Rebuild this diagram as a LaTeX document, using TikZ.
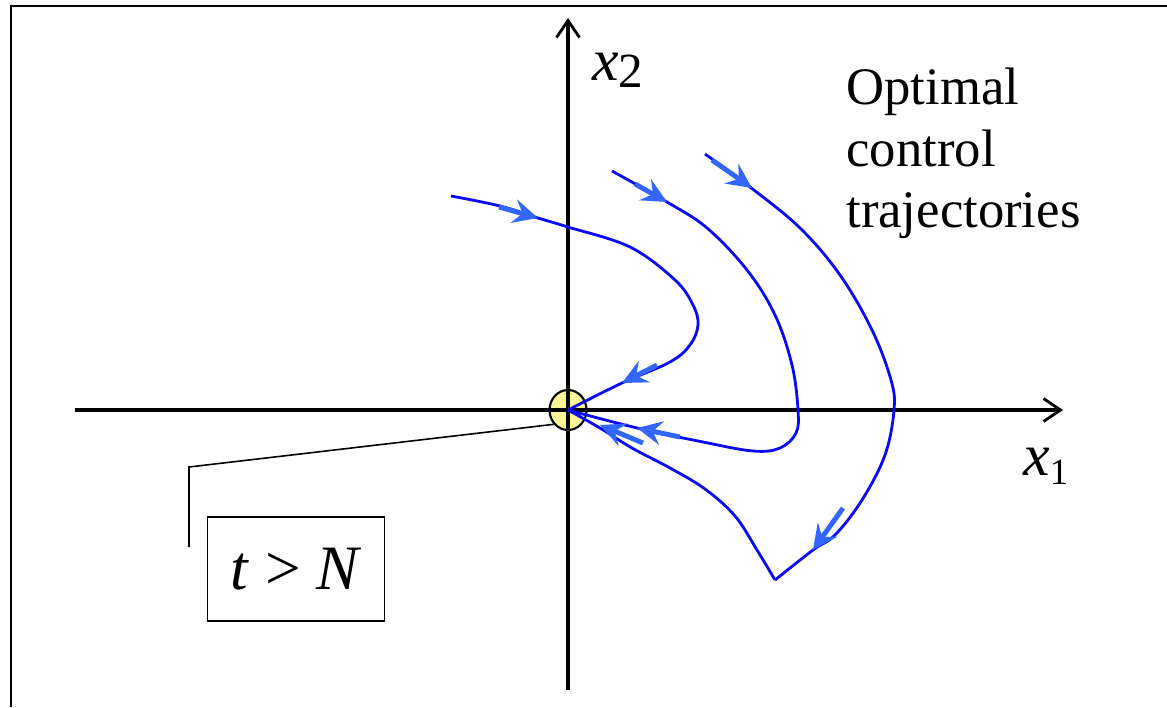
\documentclass[tikz,border=0pt]{standalone}
\usepackage{fontspec}
\setmainfont{Liberation Serif}
\usetikzlibrary{arrows.meta,shapes.geometric}
\definecolor{trajblue}{RGB}{10,10,245}
\definecolor{tipblue}{RGB}{51,102,255}
\definecolor{eqyellow}{RGB}{252,246,150}
\tikzset{
  axis/.style={line width=1.8pt,-{Straight Barb[length=3.4mm,width=4.6mm,line width=1.6pt]}},
  traj/.style={trajblue,line width=1.6pt,line join=miter},
  flow/.style={tipblue,line width=2.8pt,-{Stealth[length=5mm,width=4.8mm,inset=1.8mm]}},
}
\begin{document}
\begin{tikzpicture}[x=0.02cm,y=-0.02cm]
\useasboundingbox (0,0) rectangle (1167,707);
\draw[line width=1.5pt] (11,707) -- (11,6) -- (1167,6);
\path node (eq) at (568,410) [ellipse,draw,fill=eqyellow,line width=1.2pt,minimum width=0.74cm,minimum height=0.8cm,inner sep=0pt] {}
node (tn) at (296,569) [draw,line width=0.9pt,minimum width=3.54cm,minimum height=2.08cm,font=\fontsize{36}{40}\selectfont] {\textit{t} > \textit{N}}
node (xtwo) at (592,80) [anchor=base west,inner sep=0pt,font=\fontsize{34}{40}\selectfont] {\textit{x}\raisebox{-4.5pt}{\fontsize{28}{30}\selectfont 2}}
node (xone) at (1023,475) [anchor=base west,inner sep=0pt,font=\fontsize{34}{40}\selectfont] {\textit{x}\raisebox{-5.5pt}{\fontsize{21}{24}\selectfont 1}}
node (lbl) at (846,68) [anchor=north west,align=left,inner sep=0pt,font=\fontsize{30}{35}\selectfont] {Optimal\\control\\trajectories}
;
\coordinate (xl) at (75,410);
\coordinate (xr) at (1063,410);
\coordinate (yb) at (568,690);
\coordinate (yt) at (568,18);
\coordinate (bend) at (189,467);
\coordinate (foot) at (189,547);
\draw[axis] (xl) -- (xr);
\draw[axis] (yb) -- (yt);
\draw[line width=0.9pt] (eq.225) -- (bend) -- (foot);
% trajectories
\draw[traj] plot[smooth,tension=0.6] coordinates {(451,196) (500,206) (538,218) (568,227) (630,247) (675,280) (693,305) (698,325) (690,345) (670,362) (622,383) (eq.center)};
\draw[traj] plot[smooth,tension=0.6] coordinates {(612,171) (667,202) (707,228) (747,270) (775,315) (792,365) (798,410) (796,433) (780,448) (753,451) (703,442) (637,428) (eq.center)};
\draw[traj] plot[smooth,tension=0.6] coordinates {(705,154) (750,187) (800,228) (840,275) (872,330) (891,380) (894,410) (885,455) (862,500) (835,535) (813,550) (775,580)};
\draw[traj] plot[smooth,tension=0.6] coordinates {(775,580) (757,550) (735,516) (705,489) (670,468) (632,448) (600,428) (eq.center)};
% direction marks
\draw[flow] (499,207) -- (538,218);
\draw[flow] (635,184) -- (667,202);
\draw[flow] (712,160) -- (752,188);
\draw[flow] (657,365) -- (622,383);
\draw[flow] (680,437) -- (637,428);
\draw[flow] (643,443) -- (600,425);
\draw[flow] (843,508) -- (813,550);
\end{tikzpicture}
\end{document}
